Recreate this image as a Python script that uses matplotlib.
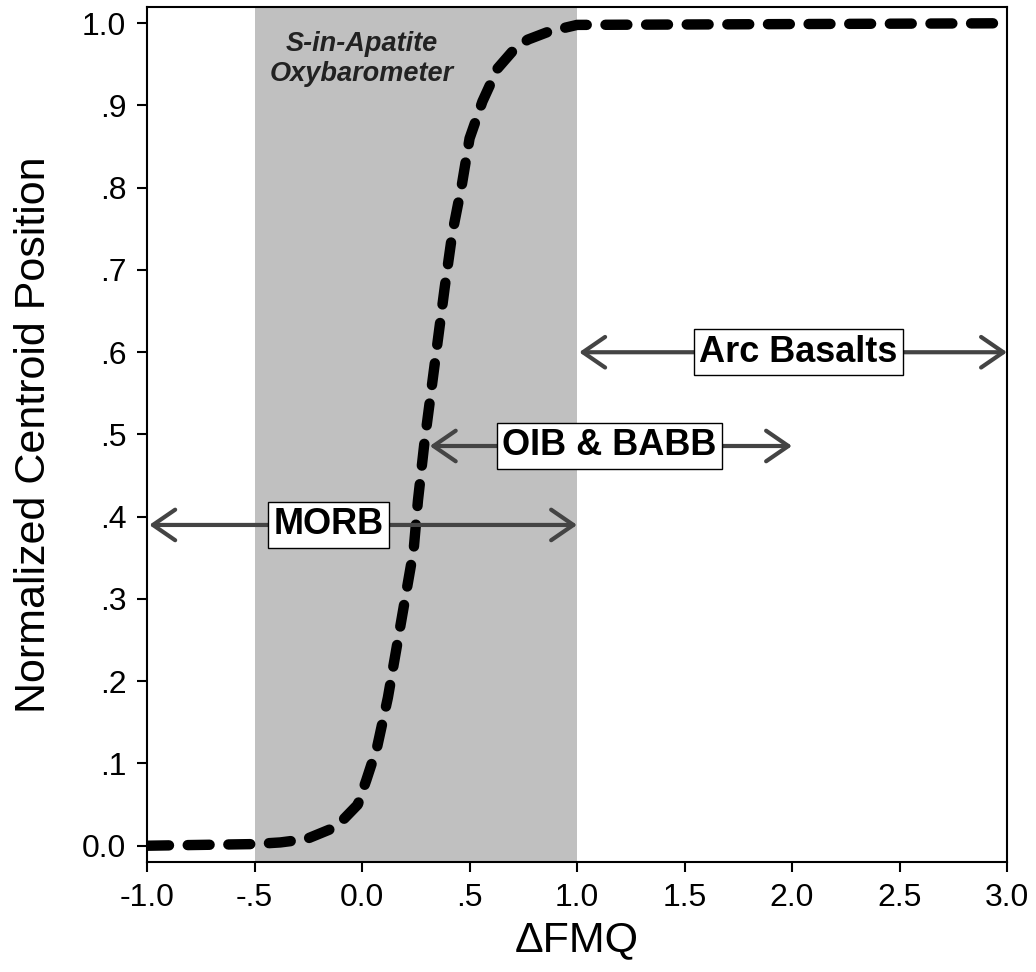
import matplotlib
matplotlib.use("Agg")
import matplotlib.pyplot as plt

plt.rcParams['font.family'] = ['Liberation Sans', 'DejaVu Sans']

# curve
fmq = [-1.0, -0.5, -0.38, -0.26, -0.12, -0.02, 0.02, 0.07, 0.12, 0.16, 0.20, 0.24, 0.26,
       0.29, 0.325, 0.355, 0.385, 0.42, 0.465, 0.50, 0.56, 0.63, 0.70, 0.77, 0.87, 1.0, 3.0]
centroid = [0.0, 0.002, 0.004, 0.008, 0.023, 0.05, 0.08, 0.12, 0.18, 0.24, 0.30, 0.36, 0.42,
            0.49, 0.56, 0.62, 0.68, 0.745, 0.805, 0.86, 0.905, 0.945, 0.966, 0.98, 0.99, 0.998, 1.0]

band = (-0.5, 1.0)
band_label = "S-in-Apatite\nOxybarometer"

# ranges: name, start, end, y, label x
range_names = ["MORB", "OIB & BABB", "Arc Basalts"]
range_start = [-0.99, 0.315, 1.01]
range_end = [1.0, 2.0, 3.0]
range_y = [0.39, 0.486, 0.60]
label_x = [-0.155, 1.15, 2.03]

xticks = [-1.0, -0.5, 0.0, 0.5, 1.0, 1.5, 2.0, 2.5, 3.0]
xtick_labels = ["-1.0", "-.5", "0.0", ".5", "1.0", "1.5", "2.0", "2.5", "3.0"]
yticks = [0.0, 0.1, 0.2, 0.3, 0.4, 0.5, 0.6, 0.7, 0.8, 0.9, 1.0]
ytick_labels = ["0.0", ".1", ".2", ".3", ".4", ".5", ".6", ".7", ".8", ".9", "1.0"]

fig = plt.figure(figsize=(10.36, 9.72), dpi=100)
ax = fig.add_axes([0.142, 0.113, 0.830, 0.880])

ax.axvspan(band[0], band[1], color="#c0c0c0", lw=0, zorder=0)
ax.text(0.0, 0.957, band_label, ha="center", va="center", fontsize=19.5,
        fontweight="bold", style="italic", color="#222222", linespacing=1.2)

for name, x0, x1, y, lx in zip(range_names, range_start, range_end, range_y, label_x):
    ax.annotate("", xy=(x1, y), xytext=(x0, y),
                arrowprops=dict(arrowstyle="<->,head_length=0.8,head_width=0.55",
                                lw=3.0, color="#444444", shrinkA=0, shrinkB=0,
                                mutation_scale=20, capstyle="round", joinstyle="round"),
                zorder=3)
    ax.text(lx, y, name, ha="center", va="center", fontsize=26, fontweight="bold",
            zorder=4, bbox=dict(boxstyle="square,pad=0.15", fc="white", ec="black", lw=1.0))

line, = ax.plot(fmq, centroid, color="black", lw=7.5, zorder=2,
                dash_capstyle="round", solid_capstyle="round")
line.set_dashes((2.1, 1.8))

ax.set_xlim(-1.0, 3.0)
ax.set_ylim(-0.02, 1.02)
ax.set_xticks(xticks)
ax.set_xticklabels(xtick_labels)
ax.set_yticks(yticks)
ax.set_yticklabels(ytick_labels)
ax.tick_params(axis="both", direction="out", length=7, width=1.5, labelsize=23, pad=8)
for s in ax.spines.values():
    s.set_linewidth(1.5)

ax.set_xlabel("\u0394FMQ", fontsize=31, labelpad=5)
ax.set_ylabel("Normalized Centroid Position", fontsize=31, labelpad=20)

fig.savefig("out.png", dpi=100)
